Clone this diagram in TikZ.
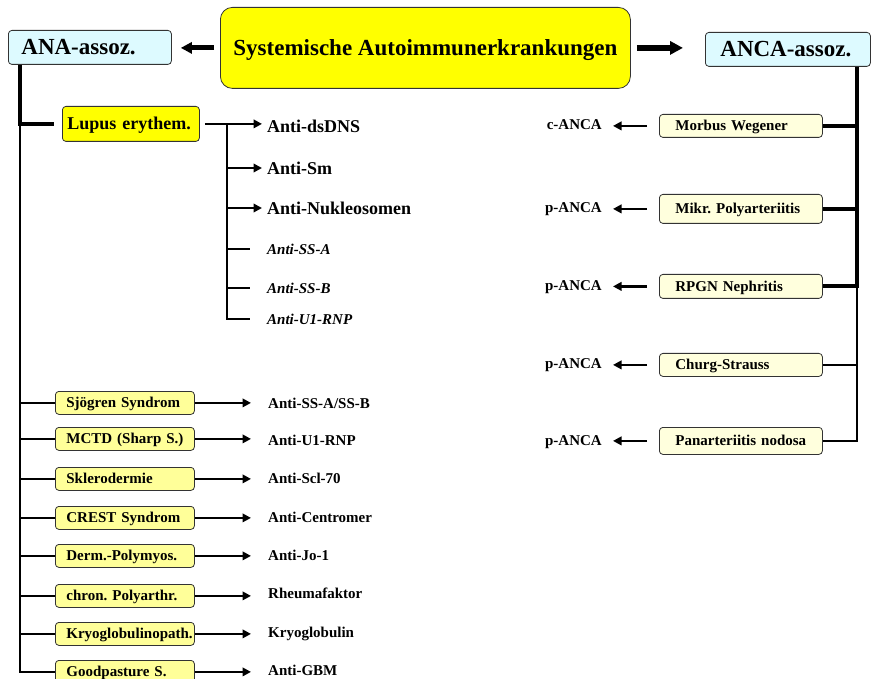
\documentclass[tikz,border=0pt]{standalone}
\usepackage{fontspec}
\setmainfont{Liberation Serif}
\usetikzlibrary{arrows.meta}
\definecolor{sysyellow}{HTML}{FFFF00}
\definecolor{paleyellow}{HTML}{FFFF99}
\definecolor{cream}{HTML}{FFFFDD}
\definecolor{cyanlight}{HTML}{DDFAFF}
\definecolor{frameline}{HTML}{333333}
\frenchspacing
\begin{document}
\begin{tikzpicture}[x=1pt,y=-1pt,
  every node/.style={inner sep=0pt},
  frame/.style={draw=frameline, line width=0.8pt, rounded corners=3.5pt, anchor=north west, align=left},
  fsmall/.style={font=\bfseries\fontsize{15}{17}\selectfont},
  fital/.style={font=\bfseries\itshape\fontsize{15}{17}\selectfont},
  fmid/.style={font=\bfseries\fontsize{18}{21}\selectfont},
  fbig/.style={font=\bfseries\fontsize{23}{27}\selectfont},
  listbox/.style={frame, fsmall, fill=paleyellow, text width=117pt, inner xsep=11pt, minimum height=23pt, text height=11pt, text depth=1pt},
  ancabox/.style={frame, fsmall, fill=cream, text width=131pt, inner xsep=16pt, text height=11pt, text depth=1pt},
  lbl/.style={text depth=0pt},
  trunk/.style={line width=4pt},
  twig/.style={line width=1.6pt},
  arr/.style={line width=2.6pt, -{Triangle[length=8.5pt,width=8.5pt]}},
]
\useasboundingbox (0,0) rectangle (871,679);

% top row
\node[frame, fbig, fill=sysyellow, rounded corners=12pt, minimum width=410pt, minimum height=81pt, align=center, text height=16.5pt, text depth=1.3pt] (sys) at (220,7) {Systemische Autoimmunerkrankungen};
\node[frame, fbig, fill=cyanlight, text width=137pt, inner xsep=13pt, minimum height=34pt, text height=16.5pt, text depth=1.3pt] (ana) at (8,30) {ANA-assoz.};
\node[frame, fbig, fill=cyanlight, text width=135pt, inner xsep=15pt, minimum height=34pt, text height=16.5pt, text depth=1.3pt] (anca) at (705,32) {ANCA-assoz.};

\draw[line width=5pt, -{Triangle[length=11pt,width=11pt]}] ([xshift=-6pt]sys.west) -- ([xshift=9pt]ana.east |- sys.west);
\draw[line width=6.5pt, -{Triangle[length=13pt,width=13pt]}] ([xshift=6pt]sys.east) -- ([xshift=-22pt]anca.west |- sys.east);

% ANA side
\coordinate (anaT) at (20,0);
\coordinate (subT) at (227,0);
\coordinate (ancaT) at (857,0);

\node[frame, fmid, fill=sysyellow, text width=127pt, inner xsep=5pt, minimum height=35pt, text height=13pt, text depth=1pt] (lupus) at (62,106) {Lupus erythem.};

\node[lbl, fmid, anchor=west] (dsdna) at (267,126) {Anti-dsDNS};
\node[lbl, fmid, anchor=west] (sm) at (267,168) {Anti-Sm};
\node[lbl, fmid, anchor=west] (nuk) at (267,208) {Anti-Nukleosomen};
\node[lbl, fital, anchor=west] (ssa) at (267,249) {Anti-SS-A};
\node[lbl, fital, anchor=west] (ssb) at (267,288) {Anti-SS-B};
\node[lbl, fital, anchor=west] (urnp) at (267,319) {Anti-U1-RNP};

\draw[trunk] (anaT |- ana.south) -- (anaT |- lupus.west) -- ([xshift=-8pt]lupus.west);
\draw[arr, shorten <=5pt, shorten >=5pt] (lupus.east) -- (lupus.east -| dsdna.west);
\draw[twig] (subT |- lupus.east) -- (subT |- urnp.west) -- ([xshift=-17pt]urnp.west);
\draw[arr, shorten >=5pt] (subT |- sm.west) -- (sm.west);
\draw[arr, shorten >=5pt] (subT |- nuk.west) -- (nuk.west);
\draw[twig, shorten >=17pt] (subT |- ssa.west) -- (ssa.west);
\draw[twig, shorten >=17pt] (subT |- ssb.west) -- (ssb.west);

\node[listbox] (sj) at (55,391) {\mbox{Sjögren Syndrom}};
\node[listbox] (mctd) at (55,427) {\mbox{MCTD (Sharp S.)}};
\node[listbox] (skl) at (55,467) {\mbox{Sklerodermie}};
\node[listbox] (crest) at (55,506) {\mbox{CREST Syndrom}};
\node[listbox] (derm) at (55,544) {\mbox{Derm.-Polymyos.}};
\node[listbox] (cp) at (55,584) {\mbox{chron. Polyarthr.}};
\node[listbox] (kryo) at (55,622) {\mbox{Kryoglobulinopath.}};
\node[listbox] (gp) at (55,660) {\mbox{Goodpasture S.}};

\node[lbl, fsmall, anchor=west] (l1) at (268,403) {Anti-SS-A/SS-B};
\node[lbl, fsmall, anchor=west] (l2) at (268,440) {Anti-U1-RNP};
\node[lbl, fsmall, anchor=west] (l3) at (268,478) {Anti-Scl-70};
\node[lbl, fsmall, anchor=west] (l4) at (268,517) {Anti-Centromer};
\node[lbl, fsmall, anchor=west] (l5) at (268,555) {Anti-Jo-1};
\node[lbl, fsmall, anchor=west] (l6) at (268,593) {Rheumafaktor};
\node[lbl, fsmall, anchor=west] (l7) at (268,632) {Kryoglobulin};
\node[lbl, fsmall, anchor=west] (l8) at (268,670) {Anti-GBM};

\draw[twig] (anaT |- lupus.west) -- (anaT |- gp.west) -- (gp.west);
\foreach \b in {sj,mctd,skl,crest,derm,cp,kryo}{
  \draw[twig] (anaT |- \b.west) -- (\b.west);
}
\foreach \b/\l in {sj/l1,mctd/l2,skl/l3,crest/l4,derm/l5,cp/l6,kryo/l7,gp/l8}{
  \draw[arr, shorten >=17pt] (\b.east) -- (\b.east -| \l.west);
}

% ANCA side
\node[ancabox, minimum height=23pt] (mw) at (659,114) {\mbox{Morbus Wegener}};
\node[ancabox, minimum height=29pt] (mp) at (659,194) {\mbox{Mikr. Polyarteriitis}};
\node[ancabox, minimum height=24pt] (rp) at (659,274) {\mbox{RPGN Nephritis}};
\node[ancabox, minimum height=23pt] (cs) at (659,353) {\mbox{Churg-Strauss}};
\node[ancabox, minimum height=27pt] (pn) at (659,427) {\mbox{Panarteriitis nodosa}};

\node[lbl, fsmall, anchor=east] (a1) at (602,125) {c-ANCA};
\node[lbl, fsmall, anchor=east] (a2) at (602,208) {p-ANCA};
\node[lbl, fsmall, anchor=east] (a3) at (602,286) {p-ANCA};
\node[lbl, fsmall, anchor=east] (a4) at (602,364) {p-ANCA};
\node[lbl, fsmall, anchor=east] (a5) at (602,441) {p-ANCA};

\draw[trunk] (ancaT |- anca.south) -- (ancaT |- rp.east) -- (rp.east);
\draw[trunk] (mw.east) -- (ancaT |- mw.east);
\draw[trunk] (mp.east) -- (ancaT |- mp.east);
\draw[twig] (ancaT |- rp.east) -- (ancaT |- pn.east) -- (pn.east);
\draw[twig] (cs.east) -- (ancaT |- cs.east);

\foreach \b/\l in {mw/a1,mp/a2,rp/a3,cs/a4,pn/a5}{
  \draw[arr, shorten <=12pt, shorten >=11pt] (\b.west) -- (\b.west -| \l.east);
}
\end{tikzpicture}
\end{document}
